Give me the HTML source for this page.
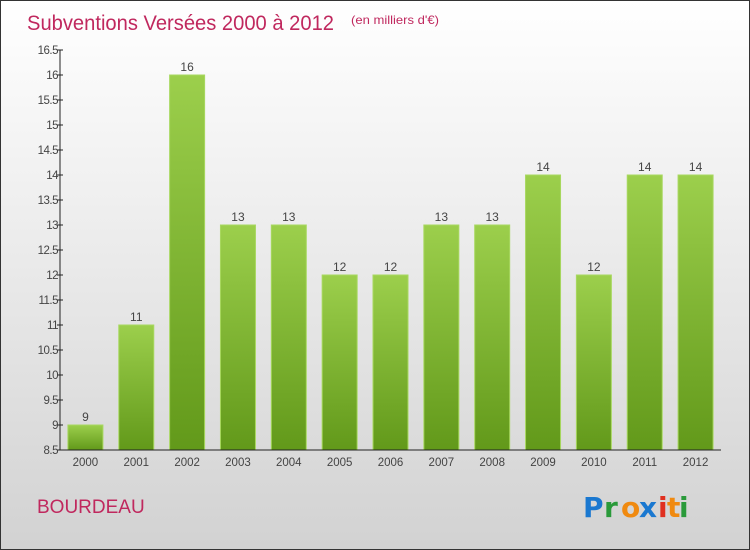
<!DOCTYPE html>
<html><head><meta charset="utf-8"><style>
body{margin:0;}
#c{width:748px;height:548px;border:1px solid #333;background:linear-gradient(#ffffff,#f2f2f2 30%,#d2d2d2);position:relative;font-family:"Liberation Sans",sans-serif;overflow:hidden}
</style></head><body>
<div id="c">
<svg width="748" height="548" xmlns="http://www.w3.org/2000/svg" id="svg">
<defs><linearGradient id="g" x1="0" y1="0" x2="0" y2="1"><stop offset="0" stop-color="#9ccf4c"/><stop offset="1" stop-color="#62991a"/></linearGradient></defs>
<text x="26" y="29" font-size="21" textLength="307" lengthAdjust="spacingAndGlyphs" fill="#c0285e">Subventions Versées 2000 à 2012</text>
<text x="350" y="23" font-size="12" textLength="88" lengthAdjust="spacingAndGlyphs" fill="#c0285e">(en milliers d'€)</text>
<text x="36" y="512" font-size="19" fill="#c0285e">BOURDEAU</text>
<g font-size="28" font-weight="bold" font-family="'DejaVu Sans',sans-serif">
<text x="582" y="516" fill="#1a78d0">P</text><text x="603" y="516" fill="#2a9a3a">r</text><text x="620" y="516" fill="#f08a10">o</text><text x="638" y="516" fill="#1a78d0">x</text><text x="657" y="516" fill="#e03020">i</text><text x="666" y="516" fill="#f08a10">t</text><text x="678" y="516" fill="#2a9a3a">i</text>
</g>
<g id="plot"></g>
</svg>
</div>
<script>
const categories=["2000","2001","2002","2003","2004","2005","2006","2007","2008","2009","2010","2011","2012"];
const values=[9,11,16,13,13,12,12,13,13,14,12,14,14];
const yTicks=[8.5,9,9.5,10,10.5,11,11.5,12,12.5,13,13.5,14,14.5,15,15.5,16,16.5];
const X0=59,X1=720,Y0=449,Y1=49,YMIN=8.5,YMAX=16.5;
const step=(X1-X0)/categories.length;
const y=v=>Y0-(v-YMIN)/(YMAX-YMIN)*(Y0-Y1);
const xc=i=>X0+step*(i+0.5);
const NS="http://www.w3.org/2000/svg";
const plot=document.getElementById('plot');
function mk(t,a){const e=document.createElementNS(NS,t);for(const k in a)e.setAttribute(k,a[k]);plot.appendChild(e);return e;}
values.forEach((v,i)=>{
 const r=mk('rect',{x:xc(i)-17.5,y:y(v),width:35,height:Y0-y(v),fill:'url(#g)',stroke:'#a8d860','stroke-width':1});
 
 
 const t=mk('text',{x:xc(i),y:y(v)-4,'text-anchor':'middle','font-size':12,fill:'#444'});
 t.textContent=v;
 
 
 const c=mk('text',{x:xc(i),y:Y0+16,'text-anchor':'middle','font-size':11.5,fill:'#444'});
 c.textContent=categories[i];
 
 
});
yTicks.forEach(v=>{
 const l=mk('line',{x1:X0-3,x2:X0+3,y1:y(v),y2:y(v),stroke:'#222'});
 
 
 const t=mk('text',{x:X0-2,y:y(v)+4,'text-anchor':'end','font-size':11.5,fill:'#444','letter-spacing':'-0.5'});
 t.textContent=v;
 
 
});
const ya=mk('line',{x1:X0,x2:X0,y1:Y1,y2:Y0,stroke:'#222'});


const xa=mk('line',{x1:X0,x2:X1,y1:Y0,y2:Y0,stroke:'#222'});


</script>
</body></html>
